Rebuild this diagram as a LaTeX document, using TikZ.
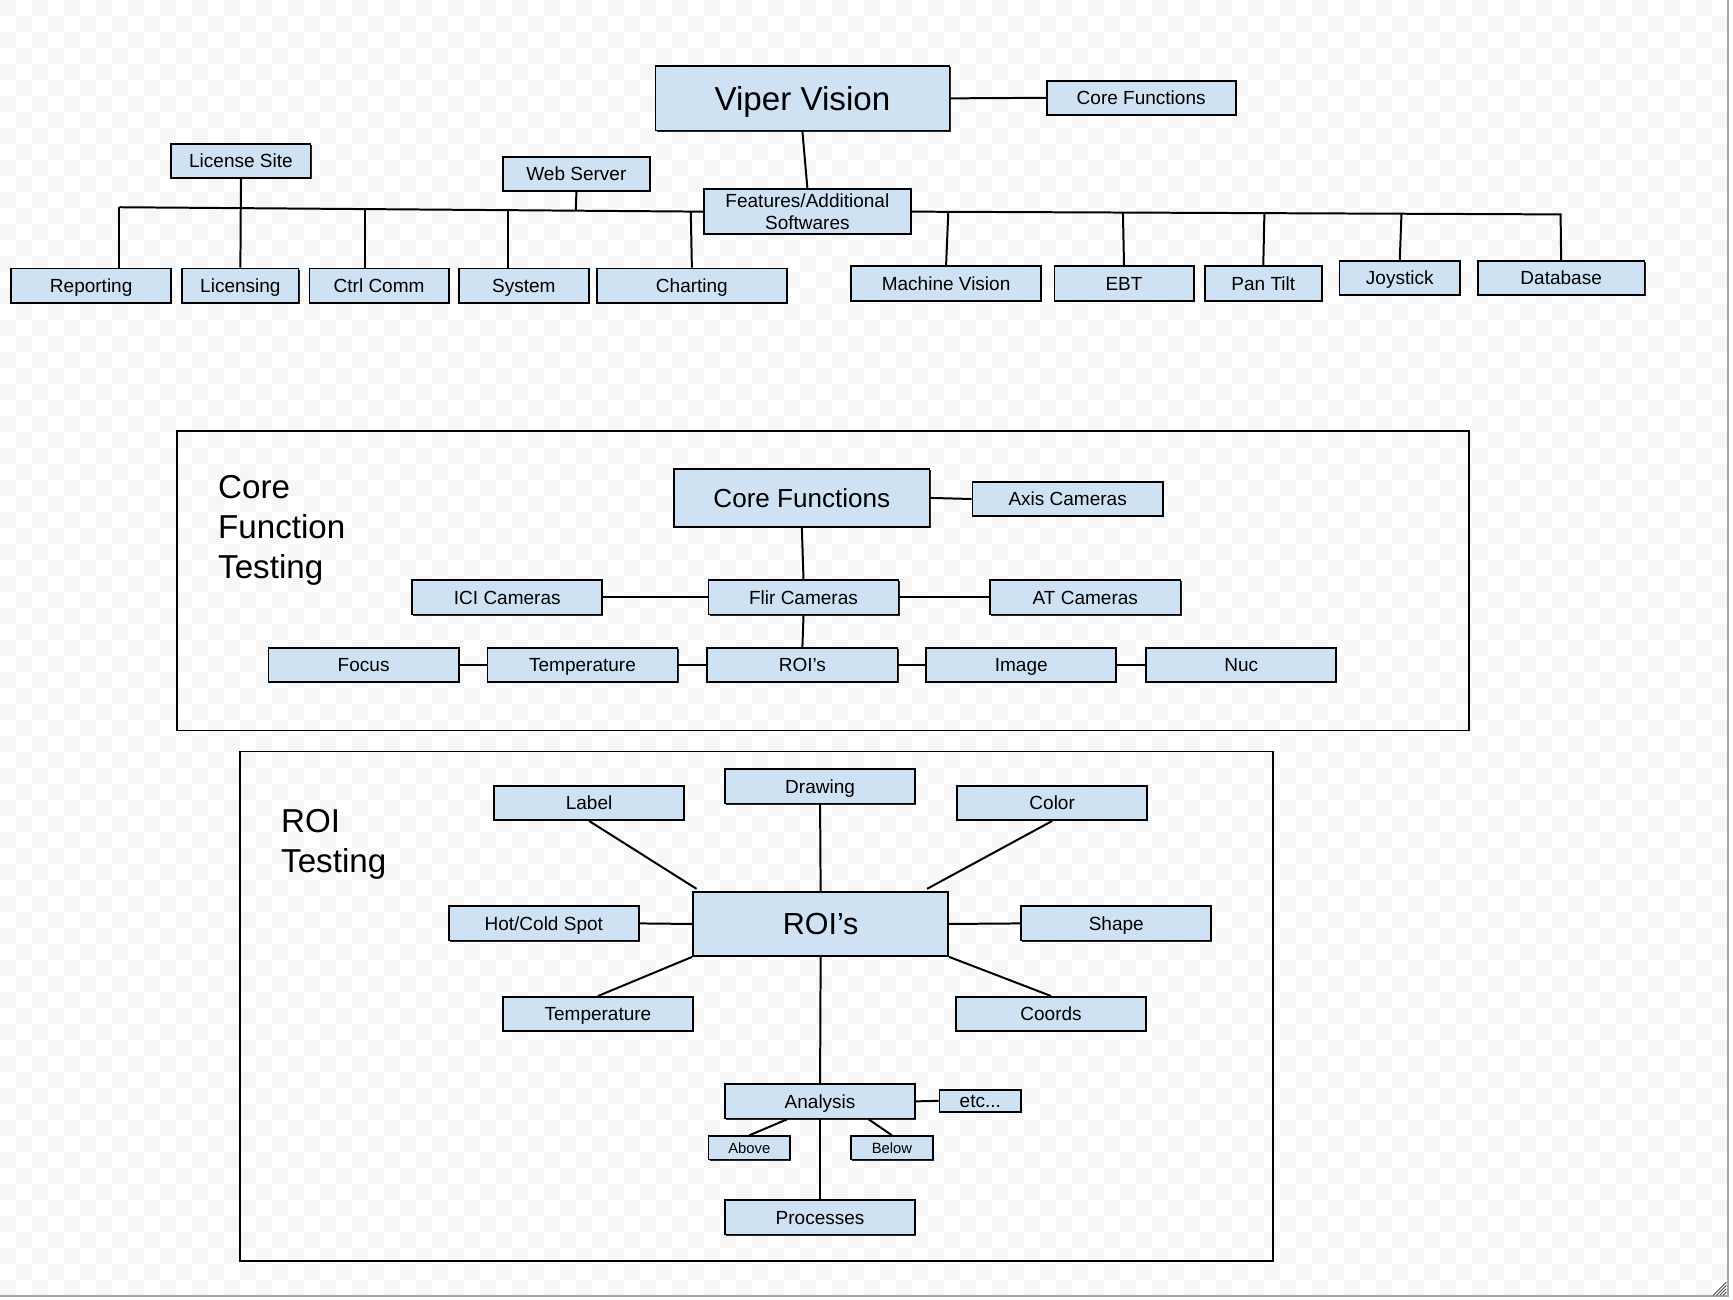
\documentclass[tikz,border=0pt]{standalone}
\usepackage{fontspec}
\setmainfont{Liberation Sans}
\usetikzlibrary{shadows,calc}
\definecolor{boxblue}{HTML}{CFE2F3}
\definecolor{chk}{HTML}{F6F6F6}
\begin{document}
\begin{tikzpicture}[x=0.5pt,y=-0.5pt,
  boxbase/.style={draw=black, line width=0.8pt, fill=boxblue, inner sep=0pt, align=center,
    font=\fontsize{8.6}{10.3}\selectfont,
    drop shadow={shadow xshift=0.5pt, shadow yshift=-0.5pt, fill=black!85, opacity=1}},
  fs/.style={font=\fontsize{#1}{#1}\selectfont, text height={#1*0.9pt}, text depth={#1*0.18pt}},
  box/.style={boxbase, fs=8.6},
  sz/.style 2 args={minimum width={#1*0.5pt}, minimum height={#2*0.5pt}},
  conn/.style={line width=0.9pt, draw=black},
  framebox/.style={draw=black, line width=0.8pt},
  title/.style={font=\fontsize{15}{18}\selectfont, align=left, inner sep=0pt, anchor=west},
  small/.style={fs=6.7}]
% background
\useasboundingbox (0,0) rectangle (1568,1176);
\fill[white] (0,0) rectangle (1568,1176);
\begin{scope}
\clip (0,0) rectangle (1563,1172);
\foreach \i in {0,2,...,108} {
  \foreach \j in {0,2,...,80} {
    \fill[chk] ({\i*14.48},{\j*14.48}) rectangle ++(14.48,14.48);
    \fill[chk] ({(\i+1)*14.48},{(\j+1)*14.48}) rectangle ++(14.48,14.48);
  }
}
\end{scope}
\draw[black!35, line width=0.6pt] (1563.5,0) -- (1563.5,1172.5) -- (0,1172.5);
\foreach \k in {0,3,6,9} \draw[black!70, line width=0.4pt] (1562,{1160+\k}) -- ({1550+\k},1172);

% ---------- top tree ----------
\node[box, sz={266}{58}, fs=15] (viper) at (726,89) {Viper Vision};
\node[box, sz={171}{31}] (cftop) at (1032.5,88.5) {Core Functions};
\node[boxbase, sz={187}{41}, font=\fontsize{8.6}{10}\selectfont] (feat) at (730.5,191.5) {Features/Additional\\Softwares};
\node[box, sz={126}{31}] (licsite) at (218,145.5) {License Site};
\node[box, sz={133}{31}] (websrv) at (521.5,157.5) {Web Server};
\node[box, sz={145}{31}] (reporting) at (82.5,258.5) {Reporting};
\node[box, sz={105}{31}] (licensing) at (217.5,258.5) {Licensing};
\node[box, sz={126}{31}] (ctrl) at (343,258.5) {Ctrl Comm};
\node[box, sz={118}{31}] (system) at (474,258.5) {System};
\node[box, sz={172}{31}] (charting) at (626,258.5) {Charting};
\node[box, sz={172}{31}] (mv) at (856,256.5) {Machine Vision};
\node[box, sz={126}{31}] (ebt) at (1017,256.5) {EBT};
\node[box, sz={106}{31}] (pantilt) at (1143,256.5) {Pan Tilt};
\node[box, sz={109}{31}] (joystick) at (1266.5,251.5) {Joystick};
\node[box, sz={151}{31}] (database) at (1412.5,251.5) {Database};

\coordinate (lbus) at (108,187.5);
\coordinate (b3) at (330,189);
\coordinate (b4) at (460,190);
\coordinate (b5) at (521,190.5);
\coordinate (b6) at (625,191.2);
\coordinate (rbus) at (1412,194);
\coordinate (r1) at (858,192);
\coordinate (r2) at (1016,192.6);
\coordinate (r3) at (1144,193.2);
\coordinate (r4) at (1268,193.7);

\draw[conn] (viper.east) -- (cftop.west);
\draw[conn] (viper.south) -- (feat.north);
\draw[conn] (lbus) -- (feat.west);
\draw[conn] (lbus) -- (lbus |- reporting.north);
\draw[conn] (licsite.south) -- (licensing.north);
\draw[conn] (b3) -- (b3 |- ctrl.north);
\draw[conn] (b4) -- (b4 |- system.north);
\draw[conn] (websrv.south) -- (b5);
\draw[conn] (b6) -- (charting.north);
\draw[conn] (feat.east) -- (rbus) -- (database.north);
\draw[conn] (r1) -- (mv.north);
\draw[conn] (r2) -- (ebt.north);
\draw[conn] (r3) -- (pantilt.north);
\draw[conn] (r4) -- (joystick.north);

% ---------- core function testing ----------
\draw[framebox] (160,390) rectangle (1329,661);
\node[title] (cftitle) at (197,480) {Core\\Function\\Testing};
\node[box, sz={231}{53}, fs=11.8] (cf) at (725.5,450.5) {Core Functions};
\node[box, sz={172}{31}] (axis) at (966,451.5) {Axis Cameras};
\node[box, sz={172}{31}] (flir) at (727,540.5) {Flir Cameras};
\node[box, sz={172}{31}] (ici) at (459,540.5) {ICI Cameras};
\node[box, sz={172}{31}] (atc) at (982,540.5) {AT Cameras};
\node[box, sz={172}{31}] (focus) at (329,601.5) {Focus};
\node[box, sz={172}{31}] (tempa) at (527,601.5) {Temperature};
\node[box, sz={172}{31}] (roia) at (726,601.5) {ROI’s};
\node[box, sz={172}{31}] (image) at (924,601.5) {Image};
\node[box, sz={172}{31}] (nuc) at (1123,601.5) {Nuc};

\draw[conn] (cf.east) -- (axis.west);
\draw[conn] (cf.south) -- (flir.north);
\draw[conn] (ici.east) -- (flir.west);
\draw[conn] (flir.east) -- (atc.west);
\draw[conn] (flir.south) -- (roia.north);
\draw[conn] (focus.east) -- (tempa.west);
\draw[conn] (tempa.east) -- (roia.west);
\draw[conn] (roia.east) -- (image.west);
\draw[conn] (image.east) -- (nuc.west);

% ---------- ROI testing ----------
\draw[framebox] (217,680) rectangle (1152,1141);
\node[title] (roititle) at (254,764) {ROI\\Testing};
\node[box, sz={231}{58}, fs=13.8] (roi) at (742.5,836) {ROI’s};
\node[box, sz={172}{31}] (label) at (533,726.5) {Label};
\node[box, sz={172}{31}] (drawing) at (742,711.5) {Drawing};
\node[box, sz={172}{31}] (color) at (952,726.5) {Color};
\node[box, sz={172}{31}] (hot) at (492,835.5) {Hot/Cold Spot};
\node[box, sz={172}{31}] (shape) at (1010,835.5) {Shape};
\node[box, sz={172}{31}] (tempb) at (541,917.5) {Temperature};
\node[box, sz={172}{31}] (coords) at (951,917.5) {Coords};
\node[box, sz={172}{31}] (analysis) at (742,996.5) {Analysis};
\node[box, sz={74}{20}] (etc) at (887,996) {etc...};
\node[box, sz={74}{21}, small] (above) at (678,1038.5) {Above};
\node[box, sz={74}{21}, small] (below) at (807,1038.5) {Below};
\node[box, sz={172}{31}] (processes) at (742,1101.5) {Processes};

\draw[conn] (label.south) -- ($(roi.north west)+(4,-2)$);
\draw[conn] (drawing.south) -- (roi.north);
\draw[conn] (color.south) -- ($(roi.north east)+(-20,-2)$);
\draw[conn] (hot.east) -- (roi.west);
\draw[conn] (roi.east) -- (shape.west);
\draw[conn] (roi.south west) -- (tempb.north);
\draw[conn] (roi.south east) -- (coords.north);
\draw[conn] (roi.south) -- (analysis.north);
\draw[conn] (analysis.east) -- (etc.west);
\draw[conn] ($(analysis.south)+(-30,0)$) -- (above.north);
\draw[conn] ($(analysis.south)+(44,0)$) -- (below.north);
\draw[conn] (analysis.south) -- (processes.north);
\end{tikzpicture}
\end{document}
